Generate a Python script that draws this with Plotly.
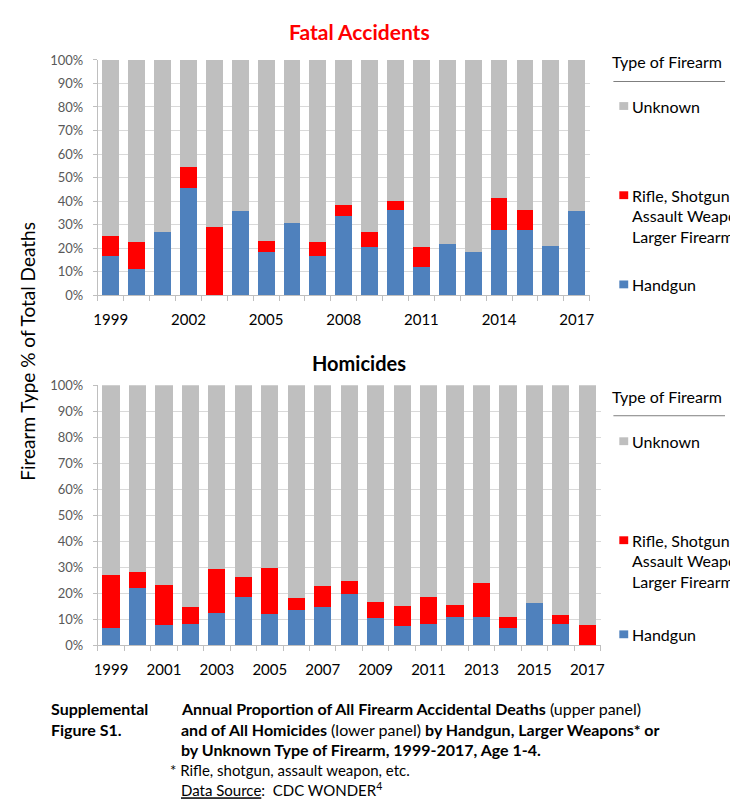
import plotly.graph_objects as go

years = list(range(1999, 2018))

# Fatal Accidents (upper panel), % of total deaths
acc_handgun = [16.7, 11.1, 26.7, 45.6, 0, 35.7, 18.5, 30.7, 16.7, 33.5, 20.3, 36.1, 12.1, 21.7, 18.5, 27.5, 27.9, 20.8, 35.7]
acc_rifle = [8.6, 11.4, 0, 9.1, 28.9, 0, 4.6, 0, 5.8, 4.8, 6.4, 4.0, 8.2, 0, 0, 13.6, 8.2, 0, 0]
acc_unknown = [74.7, 77.5, 73.3, 45.3, 71.1, 64.3, 76.9, 69.3, 77.5, 61.7, 73.3, 59.9, 79.7, 78.3, 81.5, 58.9, 63.9, 79.2, 64.3]

# Homicides (lower panel), % of total deaths
hom_handgun = [6.7, 21.9, 7.9, 8.3, 12.5, 18.6, 12.1, 13.7, 14.5, 19.7, 10.4, 7.5, 8.3, 10.8, 10.8, 6.7, 16.2, 8.3, 0]
hom_rifle = [20.1, 6.1, 15.2, 6.2, 16.7, 7.8, 17.6, 4.4, 8.1, 5.0, 6.2, 7.5, 10.3, 4.5, 13.1, 4.1, 0, 3.4, 7.9]
hom_unknown = [73.2, 72.0, 76.9, 85.5, 70.8, 73.6, 70.3, 81.9, 77.4, 75.3, 83.4, 85.0, 81.4, 84.7, 76.1, 89.2, 83.8, 88.3, 92.1]

top_ticks = [1999, 2002, 2005, 2008, 2011, 2014, 2017]
bot_ticks = [1999, 2001, 2003, 2005, 2007, 2009, 2011, 2013, 2015, 2017]
y_ticks = list(range(0, 101, 10))
y_labels = [f"{v}%" for v in y_ticks]

C_HAND = "#4f81bd"
C_RIFLE = "#ff0000"
C_UNK = "#bfbfbf"
FONT = "Lato"

W, H = 730, 806
def px(x):
    return x / W
def py(y):
    return 1 - y / H

fig = go.Figure()
for (hg, rf, uk, xa, ya) in [(acc_handgun, acc_rifle, acc_unknown, "x", "y"),
                             (hom_handgun, hom_rifle, hom_unknown, "x2", "y2")]:
    for vals, col, name in [(hg, C_HAND, "Handgun"), (rf, C_RIFLE, "Rifle"), (uk, C_UNK, "Unknown")]:
        fig.add_trace(go.Bar(x=years, y=vals, marker=dict(color=col, line=dict(width=0)),
                             name=name, xaxis=xa, yaxis=ya, showlegend=False, width=0.65))

boundaries = [y + 0.5 for y in range(1998, 2018)]

def xaxis(domain, ticks, anchor):
    return dict(domain=domain, anchor=anchor, range=[1998.5, 2017.5], tickvals=ticks,
                ticktext=[str(t) for t in ticks], ticks="", showgrid=False, zeroline=False,
                showline=True, linecolor="#bfbfbf", linewidth=1, ticklabelstandoff=11,
                tickfont=dict(family=FONT, size=15, color="#000000"),
                minor=dict(tickvals=boundaries, ticks="outside", ticklen=5, tickcolor="#bfbfbf", showgrid=False),
                fixedrange=True)

def yaxis(domain, anchor):
    return dict(domain=domain, anchor=anchor, range=[0, 100], tickvals=y_ticks, ticktext=y_labels,
                ticks="outside", ticklen=4, tickcolor="#bfbfbf", showgrid=True, gridcolor="#d9d9d9",
                gridwidth=1, zeroline=False, showline=True, linecolor="#bfbfbf", linewidth=1,
                ticklabelstandoff=7,
                tickfont=dict(family=FONT, size=13, color="#595959"), fixedrange=True)

fig.update_layout(
    width=W, height=H, margin=dict(l=0, r=0, t=0, b=0),
    paper_bgcolor="white", plot_bgcolor="white", barmode="stack", bargap=0.35,
    xaxis=xaxis([px(95), px(593)], top_ticks, "y"),
    yaxis=yaxis([py(293), py(53)], "x"),
    xaxis2=xaxis([px(95), px(604)], bot_ticks, "y2"),
    yaxis2=yaxis([py(650), py(385)], "x2"),
    font=dict(family=FONT),
)

ann = []
def A(x, y, text, size=14, color="#000000", xanchor="left", **kw):
    ann.append(dict(x=px(x), y=py(y), xref="paper", yref="paper", text=text, showarrow=False,
                    xanchor=xanchor, yanchor="middle", font=dict(family=FONT, size=size, color=color), **kw))

A(360, 24, "<b>Fatal Accidents</b>", size=21, color="#ff0000", xanchor="center")
A(359, 362, "<b>Homicides</b>", size=20, xanchor="center")
A(23, 350, "Firearm Type % of Total Deaths", size=19, xanchor="center", textangle=-90)

LEG = 16
shapes = []
def legend(y_title, y_line, y_unk, y_rifle, y_hand):
    A(614, y_title, "Type of Firearm", size=LEG)
    shapes.append(dict(type="line", xref="paper", yref="paper", x0=px(617), x1=px(730),
                       y0=py(y_line), y1=py(y_line), line=dict(color="#7f7f7f", width=1)))
    for yy, col in [(y_unk, C_UNK), (y_rifle, C_RIFLE), (y_hand, C_HAND)]:
        shapes.append(dict(type="rect", xref="paper", yref="paper", x0=px(623), x1=px(632),
                           y0=py(yy + 4), y1=py(yy - 4), fillcolor=col, line=dict(width=0)))
    A(634, y_unk, "Unknown", size=LEG)
    A(634, y_rifle, "Rifle, Shotgun,", size=LEG)
    A(634, y_rifle + 21, "Assault Weapon,", size=LEG)
    A(634, y_rifle + 42, "Larger Firearm", size=LEG)
    A(634, y_hand, "Handgun", size=LEG)

legend(55, 75, 100, 191, 282)
legend(396, 416, 442, 543, 639)

CAP = 16
A(46, 715, "<b>Supplemental</b>", size=CAP)
A(46, 736, "<b>Figure S1.</b>", size=CAP)
A(177, 715, "<b>Annual Proportion of All Firearm Accidental Deaths</b> (upper panel)", size=CAP)
A(177, 736, "<b>and of All Homicides</b> (lower panel) <b>by Handgun, Larger Weapons* or</b>", size=CAP)
A(177, 757, "<b>by Unknown Type of Firearm, 1999-2017, Age 1-4.</b>", size=CAP)
A(166, 777, "* Rifle, shotgun, assault weapon, etc.", size=15)
A(177, 797, "<span style='text-decoration:underline'>Data Source</span>:  CDC WONDER<sup>4</sup>", size=15)

fig.update_layout(annotations=ann, shapes=shapes)
fig.write_html("out.html", config={"displayModeBar": False},
               post_script="document.body.style.margin='0';document.body.style.overflow='hidden';")
